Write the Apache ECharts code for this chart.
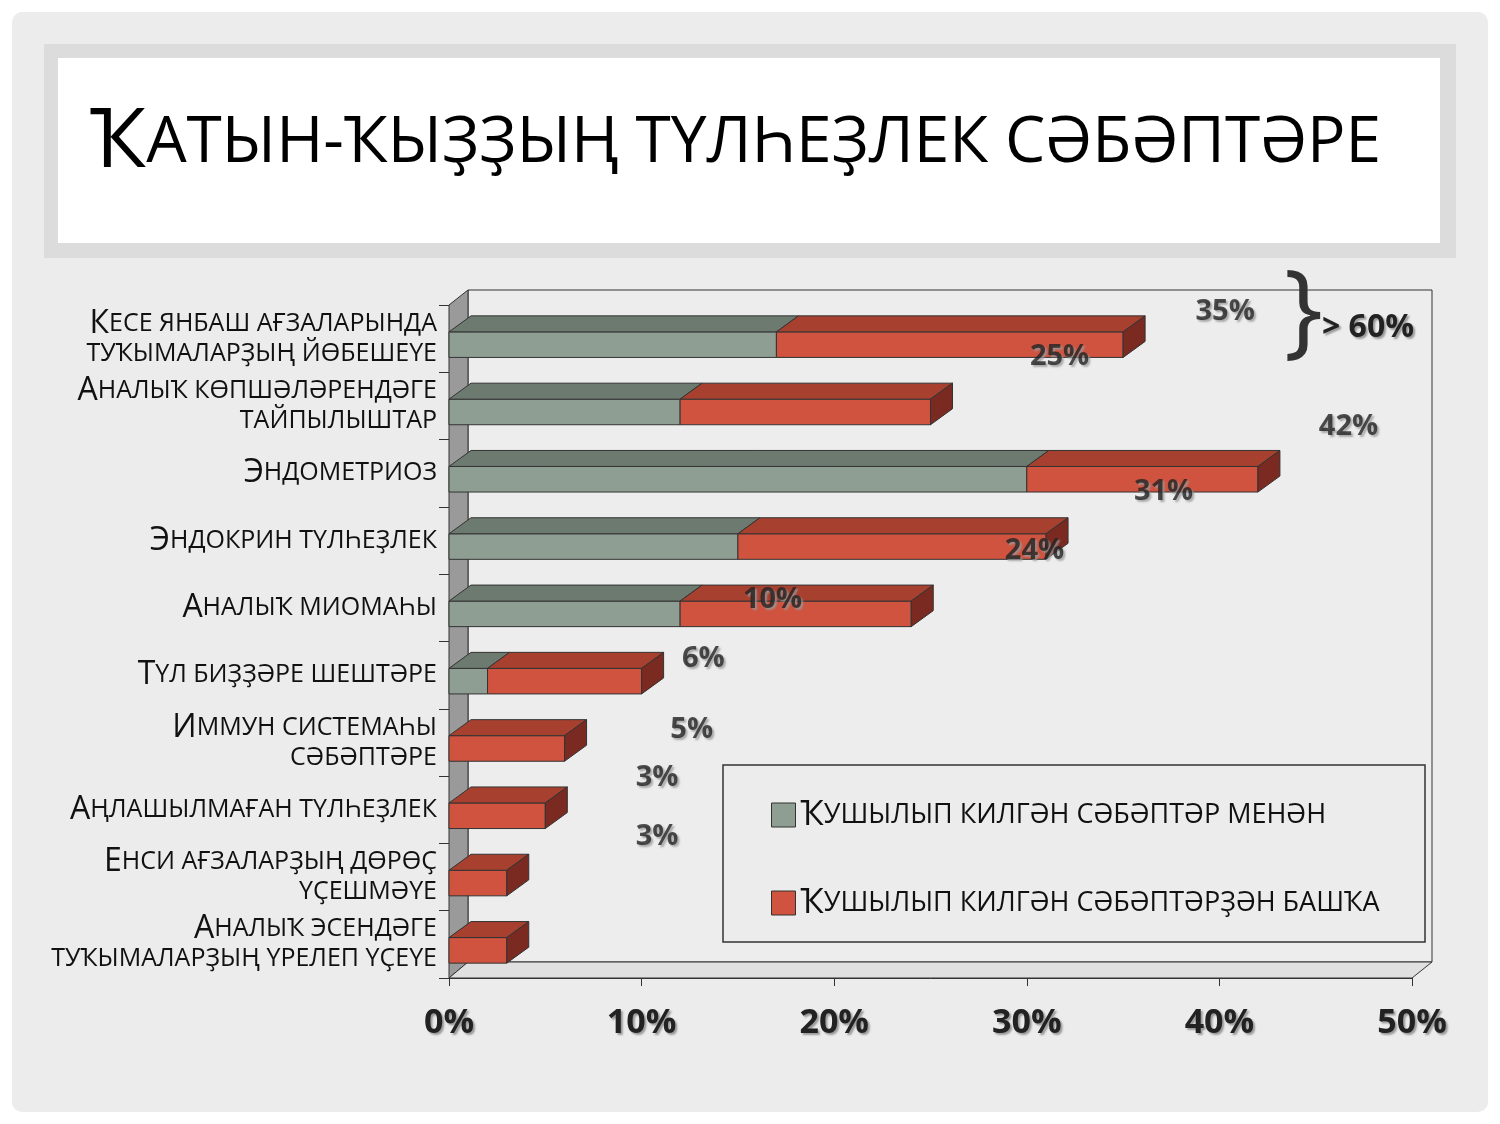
<!DOCTYPE html>
<html><head><meta charset="utf-8">
<script src="https://cdn.jsdelivr.net/npm/echarts@6/dist/echarts.min.js"></script>
<style>html,body{margin:0;background:#fff}#c{width:1500px;height:1124px}</style></head>
<body><div id="c"></div>
<script>
const categories = [
 "Кесе янбаш ағзаларында\nтуҡымаларҙың йөбешеүе",
 "Аналыҡ көпшәләрендәге\nтайпылыштар",
 "Эндометриоз",
 "Эндокрин түлһеҙлек",
 "Аналыҡ миомаһы",
 "Түл биҙҙәре шештәре",
 "Иммун системаһы\nсәбәптәре",
 "Аңлашылмаған түлһеҙлек",
 "Енси ағзаларҙың дөрөҫ\nүҫешмәүе",
 "Аналыҡ эсендәге\nтуҡымаларҙың үрелеп үҫеүе"
];
const withCauses = [17, 12, 30, 15, 12, 2, 0, 0, 0, 0];
const withoutCauses = [18, 13, 12, 16, 12, 8, 6, 5, 3, 3];
const pctLabels = ["35%","25%","42%","31%","24%","10%","6%","5%","3%","3%"];
const pctX = [40.3, 31.7, 46.7, 37.1, 30.4, 16.8, 13.2, 12.6, 10.8, 10.8];
const pctY = [-0.4, 0.27, 1.31, 2.27, 3.15, 3.88, 4.76, 5.81, 6.52, 7.4];
const seriesNames = ["Ҡушылып килгән сәбәптәр менән", "Ҡушылып килгән сәбәптәрҙән башҡа"];

const FONT = "'Open Sans','DejaVu Sans',sans-serif";
function smallCaps(s) {
  const lines = s.split("\n");
  return lines.map((l,i)=> i===0 ? "{b|"+l[0].toUpperCase()+"}{s|"+l.slice(1).toUpperCase()+"}" : "{s|"+l.toUpperCase()+"}").join("\n");
}
const DX = 22, DY = -16;
function makeRender(front, top, side, drawSide) {
  return function(params, api) {
    const cat = api.value(0), s = api.value(1), e = api.value(2);
    if (e - s <= 0) return;
    const p0 = api.coord([s, cat]), p1 = api.coord([e, cat]);
    const h = api.size([0, 1])[1] * 0.38;
    const y0 = p0[1] - h/2 + 6, y1 = y0 + h;
    const ch = [
      {type:'rect', shape:{x:p0[0], y:y0, width:p1[0]-p0[0], height:h}, style:{fill:front, stroke:'#333', lineWidth:1}},
      {type:'polygon', shape:{points:[[p0[0],y0],[p0[0]+DX,y0+DY],[p1[0]+DX,y0+DY],[p1[0],y0]]}, style:{fill:top, stroke:'#333', lineWidth:1}}
    ];
    if (drawSide) ch.push({type:'polygon', shape:{points:[[p1[0],y0],[p1[0]+DX,y0+DY],[p1[0]+DX,y1+DY],[p1[0],y1]]}, style:{fill:side, stroke:'#333', lineWidth:1}});
    return {type:'group', children:ch};
  };
}
const grayData = categories.map((c,i)=>[i, 0, withCauses[i]]);
const redData = categories.map((c,i)=>[i, withCauses[i], withCauses[i]+withoutCauses[i]]);
const pctData = pctLabels.map((l,i)=>[pctX[i], pctY[i], l]);

const chart = echarts.init(document.getElementById('c'));
chart.setOption({
  backgroundColor:'#ffffff',
  graphic:[
    {type:'rect', shape:{x:12,y:12,width:1476,height:1100,r:10}, style:{fill:'#ececec'}, z:-10},
    {type:'rect', shape:{x:44,y:44,width:1412,height:214}, style:{fill:'#dcdcdc'}, z:-9},
    {type:'rect', shape:{x:58,y:58,width:1382,height:185}, style:{fill:'#ffffff'}, z:-8},
    {type:'text', left:90, top:103, style:{text:"{b|Ҡ}{s|АТЫН-ҠЫҘҘЫҢ ТҮЛҺЕҘЛЕК СӘБӘПТӘРЕ}", rich:{b:{fontSize:82, fontFamily:FONT, fill:'#000'}, s:{fontSize:64, fontFamily:FONT, fill:'#000'}}}, z:-7},
    {type:'polygon', shape:{points:[[449,305],[468,290],[468,962],[449,978]]}, style:{fill:'#9a9a9a', stroke:'#333'}, z:-5},
    {type:'rect', shape:{x:468,y:290,width:964,height:672}, style:{fill:'#ededed', stroke:'#333'}, z:-6},
    {type:'polygon', shape:{points:[[449,978],[468,962],[1432,962],[1412,978]]}, style:{fill:'#e0e0e0', stroke:'#333'}, z:-5},
    {type:'rect', shape:{x:723,y:765,width:702,height:177}, style:{fill:'#ececec', stroke:'#333', lineWidth:1.5}, z:5},
    {type:'text', left:1284, top:262, style:{text:'}', fontSize:104, fontFamily:FONT, fill:'#333'}, z:6},
    {type:'text', left:1322, top:312, style:{text:'> 60%', fontSize:32, fontWeight:'bold', fontFamily:FONT, fill:'#222', textShadowColor:'#999', textShadowBlur:2, textShadowOffsetX:2, textShadowOffsetY:2}, z:6}
  ],
  grid:{left:449, right:88, top:305, bottom:146},
  xAxis:{type:'value', min:0, max:50, interval:10, splitLine:{show:false},
    axisLine:{show:true, onZero:false, lineStyle:{color:'#333'}}, axisTick:{show:true, length:8, lineStyle:{color:'#333'}},
    axisLabel:{formatter:'{value}%', fontSize:34, fontWeight:'bold', fontFamily:FONT, color:'#222', margin:28, textShadowColor:'#999', textShadowBlur:2, textShadowOffsetX:2, textShadowOffsetY:2}},
  yAxis:[{type:'category', data:categories, inverse:true, axisLine:{show:false}, axisTick:{show:true, length:10, lineStyle:{color:'#333'}},
    axisLabel:{margin:12, align:'right', lineHeight:30, formatter:v=>smallCaps(v),
      rich:{b:{fontSize:32, fontFamily:FONT, color:'#111'}, s:{fontSize:25, fontFamily:FONT, color:'#111'}}}},
    {type:'value', min:-0.5, max:9.5, inverse:true, show:false}],
  legend:{orient:'vertical', left:766, top:793, itemGap:54, itemWidth:24, itemHeight:24,
    data:[{name:seriesNames[0], icon:'rect', itemStyle:{color:'#8f9e92', borderColor:'#333', borderWidth:1}},
          {name:seriesNames[1], icon:'rect', itemStyle:{color:'#d0533f', borderColor:'#333', borderWidth:1}}],
    formatter:n=>smallCaps(n),
    textStyle:{rich:{b:{fontSize:34, fontFamily:FONT, color:'#111'}, s:{fontSize:27, fontFamily:FONT, color:'#111'}}}, z:10},
  series:[
    {name:seriesNames[0], type:'custom', renderItem:makeRender('#8f9e92','#6d7a70','#4d5650',false), encode:{x:[1,2], y:0}, data:grayData, itemStyle:{color:'#8f9e92'}, z:2},
    {name:seriesNames[1], type:'custom', renderItem:makeRender('#d0533f','#a8402f','#7a2a20',true), encode:{x:[1,2], y:0}, data:redData, itemStyle:{color:'#d0533f'}, z:3},
    {type:'scatter', yAxisIndex:1, data:pctData, symbolSize:0, z:8,
      label:{show:true, formatter:p=>p.value[2], fontSize:29, fontWeight:'bold', fontFamily:FONT, color:'#222', position:'inside',
        textShadowColor:'#999', textShadowBlur:2, textShadowOffsetX:2, textShadowOffsetY:2}}
  ]
});
</script></body></html>
